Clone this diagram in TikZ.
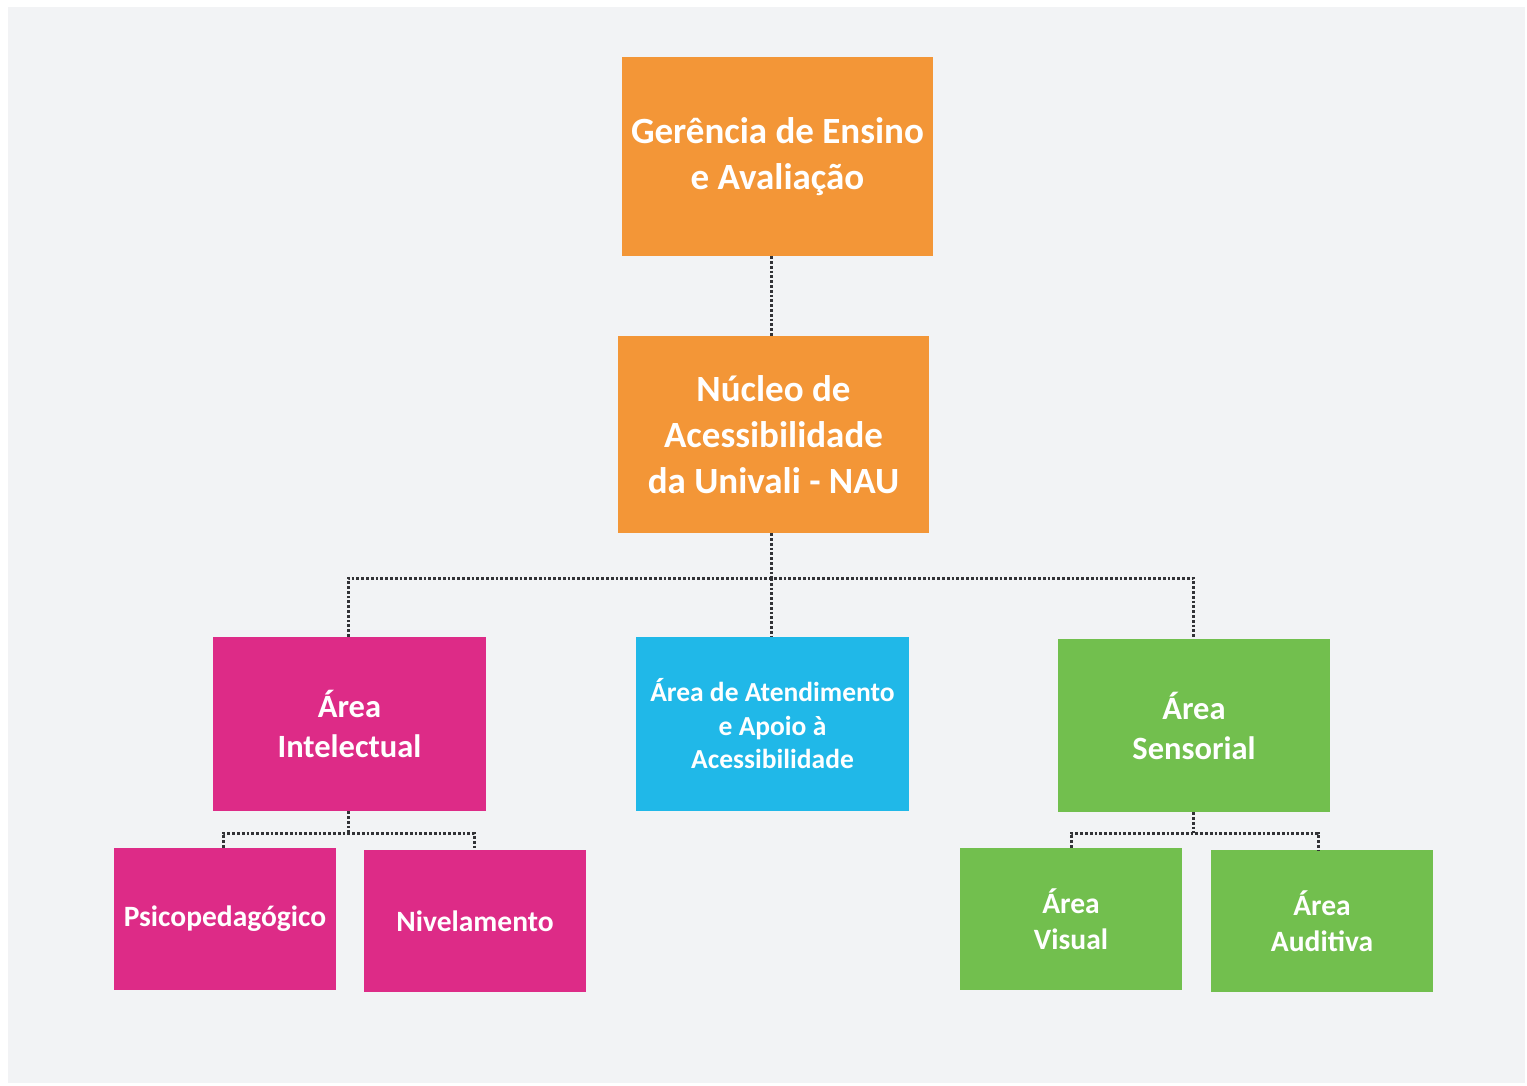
\documentclass[tikz,border=0pt]{standalone}
\usepackage{fontspec}
\setmainfont{Carlito}
\definecolor{bgc}{RGB}{242,243,245}
\definecolor{orng}{RGB}{243,150,55}
\definecolor{mgnt}{RGB}{221,43,135}
\definecolor{cyn}{RGB}{32,184,232}
\definecolor{grn}{RGB}{114,191,78}
\definecolor{dotc}{RGB}{50,50,54}
\begin{document}
\begin{tikzpicture}[x=1pt,y=-1pt,
  box/.style={rectangle, draw=none, text=white, align=center, inner sep=0pt},
  fA/.style={font=\fontsize{37}{46}\selectfont\bfseries},
  fB/.style={font=\fontsize{32.5}{40}\selectfont\bfseries},
  fC/.style={font=\fontsize{27.5}{33.5}\selectfont\bfseries},
  fD/.style={font=\fontsize{29.5}{36}\selectfont\bfseries},
  conn/.style={draw=dotc, line width=3pt, dash pattern=on 2.8pt off 2pt}]
\useasboundingbox (0,0) rectangle (1527,1085);
\fill[white] (0,0) rectangle (1527,1085);
\fill[bgc] (8,7) rectangle (1525,1083);

\node[box, fill=orng, fA, minimum width=311pt, minimum height=199pt] (g) at (777.5,156.5) {Gerência de Ensino\\e Avaliação};
\node[box, fill=orng, fA, minimum width=311pt, minimum height=197pt] (n) at (773.5,434.5) {Núcleo de\\Acessibilidade\\da Univali - NAU};
\node[box, fill=mgnt, fB, minimum width=273pt, minimum height=174pt] (ai) at (349.5,724) {Área\\Intelectual};
\node[box, fill=cyn, fC, minimum width=273pt, minimum height=174pt] (aa) at (772.5,724) {Área de Atendimento\\e Apoio à\\Acessibilidade};
\node[box, fill=grn, fB, minimum width=272pt, minimum height=173pt] (as) at (1194,725.5) {Área\\Sensorial};
\node[box, fill=mgnt, fD, minimum width=222pt, minimum height=142pt] (ps) at (225,919) {Psicopedagógico};
\node[box, fill=mgnt, fD, minimum width=222pt, minimum height=142pt] (nv) at (475,921) {Nivelamento};
\node[box, fill=grn, fD, minimum width=222pt, minimum height=142pt] (av) at (1071,919) {Área\\Visual};
\node[box, fill=grn, fD, minimum width=222pt, minimum height=142pt] (au) at (1322,921) {Área\\Auditiva};

\coordinate (j1) at (771,578);
\coordinate (jl) at (348,578);
\coordinate (jr) at (1193,578);
\coordinate (j2) at (348,833);
\coordinate (j2l) at (223,833);
\coordinate (j2r) at (474,833);
\coordinate (j3) at (1193,833);
\coordinate (j3l) at (1071,833);
\coordinate (j3r) at (1318,833);

\draw[conn] (g.south -| j1) -- (n.north -| j1);
\draw[conn] (n.south -| j1) -- (j1);
\draw[conn] (ai.north -| jl) -- (jl) -- (jr) -- (as.north -| jr);
\draw[conn] (j1) -- (aa.north -| j1);
\draw[conn] (ai.south -| j2) -- (j2);
\draw[conn] (ps.north -| j2l) -- (j2l) -- (j2r) -- (nv.north -| j2r);
\draw[conn] (as.south -| j3) -- (j3);
\draw[conn] (av.north -| j3l) -- (j3l) -- (j3r) -- (au.north -| j3r);
\end{tikzpicture}
\end{document}
